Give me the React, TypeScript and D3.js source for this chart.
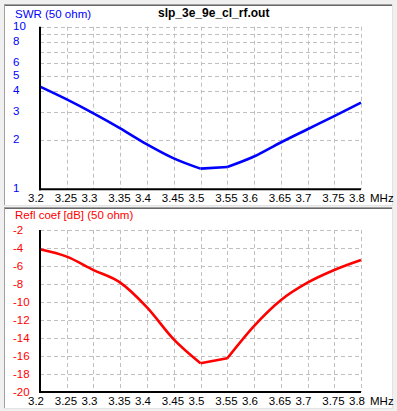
import React from "react";
import * as d3 from "d3";

const freqs = [3.2, 3.25, 3.3, 3.35, 3.4, 3.45, 3.5, 3.55, 3.6, 3.65, 3.7, 3.75, 3.8];
const swrValues = [4.28, 3.57, 2.93, 2.37, 1.89, 1.55, 1.34, 1.37, 1.59, 1.94, 2.34, 2.82, 3.41];
const reflDb = [-4.14, -4.96, -6.45, -7.85, -10.6, -14.15, -16.8, -16.26, -12.67, -9.8, -7.85, -6.44, -5.33];

const xTicks = [3.2, 3.25, 3.3, 3.35, 3.4, 3.45, 3.5, 3.55, 3.6, 3.65, 3.7, 3.75, 3.8];
const xTickLabels = ["3.2", "3.25", "3.3", "3.35", "3.4", "3.45", "3.5", "3.55", "3.6", "3.65", "3.7", "3.75", "3.8"];
const swrGrid = [2, 3, 4, 5, 6, 7, 8, 9, 10];
const swrTickValues = [1, 2, 3, 4, 5, 6, 8, 10];
const dbTicks = [-2, -4, -6, -8, -10, -12, -14, -16, -18, -20];

const title = "slp_3e_9e_cl_rf.out";
const swrLabel = "SWR (50 ohm)";
const dbLabel = "Refl coef [dB] (50 ohm)";
const unitLabel = "MHz";

const W = 397;
const H = 411;
const FONT = "'Liberation Sans', Arial, sans-serif";

export default function App() {
  const x = d3.scaleLinear().domain([3.2, 3.8]).range([40, 361]);
  const ySwr = d3.scaleLog().domain([1, 10]).range([189.3, 26.7]);
  const yDb = d3.scaleLinear().domain([-20, -2]).range([392, 230]);

  // Build smooth segments, breaking at the resonance minimum (indices 6 and 7)
  const segments = (vals: number[], yScale: (v: number) => number) => {
    const pts: [number, number][] = vals.map((v, i) => [x(freqs[i]), yScale(v)]);
    const smooth = d3.line().curve(d3.curveMonotoneX);
    const straight = d3.line();
    return [
      smooth(pts.slice(0, 7)) || "",
      straight(pts.slice(6, 8)) || "",
      smooth(pts.slice(7)) || "",
    ];
  };

  const gridColor = "#c0c0c0";
  const dash = "4,3";

  const panel = (py: number) => (
    <g>
      <rect x={4} y={py} width={389} height={202} fill="#ffffff" />
      <line x1={4} y1={py + 0.5} x2={393} y2={py + 0.5} stroke="#a0a0a0" />
      <line x1={4} y1={py + 1.5} x2={392} y2={py + 1.5} stroke="#696969" />
      <line x1={4.5} y1={py} x2={4.5} y2={py + 202} stroke="#a0a0a0" />
      <line x1={392.5} y1={py} x2={392.5} y2={py + 202} stroke="#e3e3e3" />
      <line x1={4} y1={py + 201.5} x2={393} y2={py + 201.5} stroke="#e3e3e3" />
    </g>
  );

  const xAxis = (yBottom: number, yTop: number) => (
    <g>
      {xTicks.slice(1).map((t) => (
        <line
          key={"v" + t}
          x1={Math.round(x(t)) + 0.5}
          x2={Math.round(x(t)) + 0.5}
          y1={yTop}
          y2={yBottom}
          stroke={gridColor}
          strokeDasharray={dash}
        />
      ))}
      {xTicks.map((t, i) => (
        <text
          key={"xl" + t}
          x={x(t) - 12}
          y={yBottom + 13}
          fontFamily={FONT}
          fontSize={11.5}
          fill="#000"
        >
          {xTickLabels[i]}
        </text>
      ))}
      <text x={370} y={yBottom + 13} fontFamily={FONT} fontSize={11.5} fill="#000">
        {unitLabel}
      </text>
    </g>
  );

  const swrSegs = segments(swrValues, (v) => ySwr(v));
  const dbSegs = segments(reflDb, (v) => yDb(v));

  return (
    <div style={{ position: "fixed", left: 0, top: 0 }}>
      <svg width={W} height={H} viewBox={`0 0 ${W} ${H}`} style={{ display: "block" }}>
        <rect x={0} y={0} width={W} height={H} fill="#f0f0f0" />
        {panel(4)}
        {panel(207)}

        {/* Top panel: SWR */}
        {swrGrid.map((v) => (
          <line
            key={"h" + v}
            x1={40}
            x2={361}
            y1={Math.round(ySwr(v)) + 0.5}
            y2={Math.round(ySwr(v)) + 0.5}
            stroke={gridColor}
            strokeDasharray={dash}
          />
        ))}
        {xAxis(189.3, 26.7)}
        {swrTickValues.map((v) => (
          <text
            key={"sl" + v}
            x={13}
            y={ySwr(v) + 3}
            fontFamily={FONT}
            fontSize={11.5}
            fill="#0000ff"
          >
            {String(v)}
          </text>
        ))}
        {swrSegs.map((d, i) => (
          <path key={"s" + i} d={d} fill="none" stroke="#0000ff" strokeWidth={2.6} strokeLinejoin="round" />
        ))}
        <line x1={40} x2={40} y1={26.7} y2={190.3} stroke="#000" strokeWidth={2} />
        <line x1={39} x2={361} y1={189.3} y2={189.3} stroke="#000" strokeWidth={2} />
        <text x={15} y={18} fontFamily={FONT} fontSize={11.5} fill="#0000ff">
          {swrLabel}
        </text>
        <text x={158} y={17} fontFamily={FONT} fontSize={12} fontWeight="bold" fill="#000">
          {title}
        </text>

        {/* Bottom panel: Refl coef */}
        {dbTicks.slice(0, -1).map((v) => (
          <line
            key={"hd" + v}
            x1={40}
            x2={361}
            y1={Math.round(yDb(v)) + 0.5}
            y2={Math.round(yDb(v)) + 0.5}
            stroke={gridColor}
            strokeDasharray={dash}
          />
        ))}
        {xAxis(392, 230)}
        {dbTicks.map((v) => (
          <text
            key={"dl" + v}
            x={13}
            y={yDb(v) + 3.5}
            fontFamily={FONT}
            fontSize={11.5}
            fill="#ff0000"
          >
            {String(v)}
          </text>
        ))}
        {dbSegs.map((d, i) => (
          <path key={"d" + i} d={d} fill="none" stroke="#ff0000" strokeWidth={2.6} strokeLinejoin="round" />
        ))}
        <line x1={40} x2={40} y1={230} y2={393} stroke="#000" strokeWidth={2} />
        <line x1={39} x2={361} y1={392} y2={392} stroke="#000" strokeWidth={2} />
        <text x={15} y={219} fontFamily={FONT} fontSize={11.5} fill="#ff0000">
          {dbLabel}
        </text>
      </svg>
    </div>
  );
}
